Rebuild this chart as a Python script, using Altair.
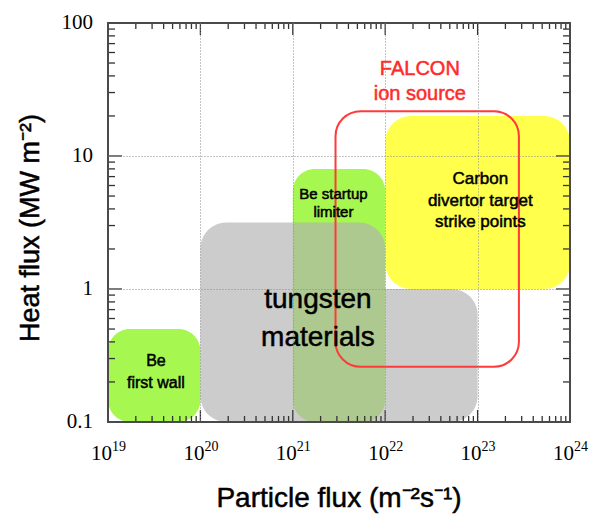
import altair as alt
import pandas as pd

# Plot-area size in pixels
W, H = 462, 399

SANS = "Liberation Sans"
SERIF = "Liberation Serif"

# Operating regions: particle flux (m^-2 s^-1) and heat flux (MW m^-2)
region_name = ["first_wall", "limiter", "carbon", "tungsten_upper", "tungsten_lower", "falcon"]
flux_min = [1e19, 1e21, 1e22, 1e20, 1e22, 2.9e21]
flux_max = [1e20, 1e22, 1e24, 1e22, 1e23, 2.8e23]
heat_min = [0.1, 0.1, 1.0, 0.1, 0.1, 0.26]
heat_max = [0.5, 8.0, 20.0, 3.16, 1.0, 21.7]

# Region labels, anchored at their first line (data units)
label_name = ["falcon", "carbon", "limiter", "tungsten", "first_wall"]
label_text = ["FALCON\nion source", "Carbon\ndivertor target\nstrike points",
              "Be startup\nlimiter", "tungsten\nmaterials", "Be\nfirst wall"]
label_flux = [2.37e22, 1.07e23, 2.75e21, 1.87e21, 3.3e19]
label_heat = [45.0, 6.67, 5.2, 0.82, 0.286]

# Axis decades and labels
x_exponents = [19, 20, 21, 22, 23, 24]
y_values = [0.1, 1, 10, 100]
y_labels = ["0.1", "1", "10", "100"]

x_title = "Particle flux (m\u207b\u00b2s\u207b\u00b9)"
y_title = "Heat flux (MW m\u207b\u00b2)"

regions = pd.DataFrame({"region": region_name, "flux_min": flux_min, "flux_max": flux_max,
                        "heat_min": heat_min, "heat_max": heat_max})
labels = pd.DataFrame({"region": label_name, "text": label_text,
                       "flux": label_flux, "heat": label_heat})

xscale = alt.Scale(type="log", domain=[1e19, 1e24], nice=False)
yscale = alt.Scale(type="log", domain=[0.1, 100], nice=False)
xaxis = alt.Axis(values=[1e20, 1e21, 1e22, 1e23], grid=True, gridDash=[1, 2],
                 gridColor="#8a8a8a", gridOpacity=1, gridWidth=1, labels=False,
                 ticks=False, domain=False, title=None, zindex=1)
yaxis = alt.Axis(values=[1, 10], grid=True, gridDash=[1, 2],
                 gridColor="#8a8a8a", gridOpacity=1, gridWidth=1, labels=False,
                 ticks=False, domain=False, title=None, zindex=1)


def X(field):
    return alt.X(f"{field}:Q", scale=xscale, axis=xaxis)


def Y(field):
    return alt.Y(f"{field}:Q", scale=yscale, axis=yaxis)


def region_rect(name, **mark_kw):
    return (alt.Chart(regions)
            .transform_filter(alt.datum.region == name)
            .mark_rect(**mark_kw)
            .encode(x=X("flux_min"), x2="flux_max", y=Y("heat_min"), y2="heat_max"))


GREEN = "#a6f750"
YELLOW = "#ffff4c"

layers = [
    region_rect("first_wall", color=GREEN, cornerRadius=22),
    region_rect("limiter", color=GREEN, cornerRadius=22),
    region_rect("carbon", color=YELLOW, cornerRadius=26),
    region_rect("tungsten_upper", color="#b2b2b2", opacity=0.66,
                cornerRadiusTopLeft=26, cornerRadiusTopRight=26,
                cornerRadiusBottomLeft=26, cornerRadiusBottomRight=0),
    region_rect("tungsten_lower", color="#b2b2b2", opacity=0.66,
                cornerRadiusTopLeft=0, cornerRadiusTopRight=26,
                cornerRadiusBottomLeft=0, cornerRadiusBottomRight=26),
    region_rect("falcon", fillOpacity=0, stroke="#ff3a3a", strokeWidth=2, cornerRadius=25),
]

# Inward ticks on all four sides
x_minor = pd.DataFrame({"v": [m * 10.0 ** d for d in range(19, 24) for m in range(2, 10)]})
x_major = pd.DataFrame({"v": [10.0 ** d for d in range(20, 24)]})
y_minor = pd.DataFrame({"v": [m * 10.0 ** d for d in range(-1, 2) for m in range(2, 10)]})
y_major = pd.DataFrame({"v": [1.0, 10.0]})

TICK = dict(color="#333333", strokeWidth=1.3)
for df, ln in [(x_minor, 6), (x_major, 12)]:
    layers.append(alt.Chart(df).mark_rule(**TICK).encode(
        x=X("v"), y=alt.value(H), y2=alt.value(H - ln)))
    layers.append(alt.Chart(df).mark_rule(**TICK).encode(
        x=X("v"), y=alt.value(0), y2=alt.value(ln)))
for df, ln in [(y_minor, 7), (y_major, 14)]:
    layers.append(alt.Chart(df).mark_rule(**TICK).encode(
        y=Y("v"), x=alt.value(0), x2=alt.value(ln)))
    layers.append(alt.Chart(df).mark_rule(**TICK).encode(
        y=Y("v"), x=alt.value(W), x2=alt.value(W - ln)))

# Frame around the plot area
frame = pd.DataFrame({"k": [0]})
layers.append(alt.Chart(frame).mark_rect(fillOpacity=0, stroke="#4a4a4a", strokeWidth=2).encode(
    x=alt.value(0), x2=alt.value(W), y=alt.value(0), y2=alt.value(H)))

# Tick labels: 10 with a raised exponent on x, plain numbers on y
xlab = pd.DataFrame({"v": [10.0 ** e for e in x_exponents],
                     "base": ["10"] * len(x_exponents),
                     "exp": [str(e) for e in x_exponents]})
layers.append(alt.Chart(xlab).mark_text(font=SERIF, fontSize=21, align="right",
                                        baseline="alphabetic", dx=4, color="black").encode(
    x=X("v"), y=alt.value(437), text="base:N"))
layers.append(alt.Chart(xlab).mark_text(font=SERIF, fontSize=14, align="left",
                                        baseline="alphabetic", dx=4, color="black").encode(
    x=X("v"), y=alt.value(428), text="exp:N"))
ylab = pd.DataFrame({"v": y_values, "t": y_labels})
layers.append(alt.Chart(ylab).mark_text(font=SERIF, fontSize=21, align="right",
                                        baseline="middle", color="black").encode(
    y=Y("v"), x=alt.value(-15), text="t:N"))

# Region labels
label_style = {
    "falcon": dict(fontSize=20, lineHeight=25, color="#ff2a2a", stroke="#ff2a2a"),
    "carbon": dict(fontSize=17, lineHeight=21.5, color="black", stroke="black"),
    "limiter": dict(fontSize=15, lineHeight=18.5, color="black", stroke="black"),
    "tungsten": dict(fontSize=28, lineHeight=38, color="black", stroke="black"),
    "first_wall": dict(fontSize=16, lineHeight=22, color="black", stroke="black"),
}
for name, st in label_style.items():
    layers.append(alt.Chart(labels).transform_filter(alt.datum.region == name)
                  .mark_text(font=SANS, align="center", baseline="middle", lineBreak="\n",
                             strokeWidth=0.5, **st)
                  .encode(x=X("flux"), y=Y("heat"), text="text:N"))

# Axis titles
titles = pd.DataFrame({"xt": [x_title], "yt": [y_title]})
layers.append(alt.Chart(titles).mark_text(font=SANS, fontSize=28, align="center",
                                          baseline="alphabetic", color="black",
                                          stroke="black", strokeWidth=0.5).encode(
    x=alt.value(W / 2), y=alt.value(484), text="xt:N"))
layers.append(alt.Chart(titles).mark_text(font=SANS, fontSize=27, align="center",
                                          baseline="alphabetic", angle=270, color="black",
                                          stroke="black", strokeWidth=0.5).encode(
    x=alt.value(-69), y=alt.value(205), text="yt:N"))

chart = (alt.layer(*layers)
         .properties(width=W, height=H,
                     padding={"left": 108, "top": 23, "right": 20, "bottom": 95},
                     autosize=alt.AutoSizeParams(type="none"),
                     background="white")
         .configure_view(strokeWidth=0))

chart.save("out.html", embed_options={"renderer": "svg", "actions": False})
